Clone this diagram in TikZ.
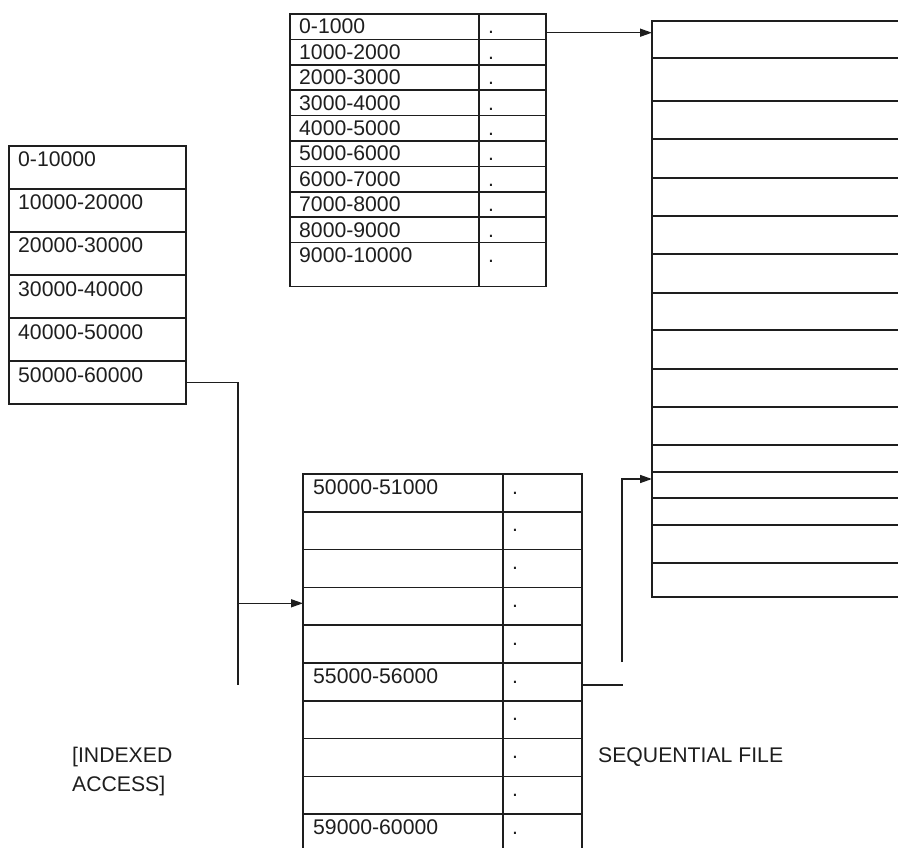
\documentclass[tikz,border=0pt]{standalone}
\usepackage{fontspec}
\setmainfont{Liberation Sans}
\usetikzlibrary{arrows.meta, positioning}
\definecolor{ink}{HTML}{1E1E1E}
\tikzset{
  cell/.style={rectangle,draw=ink,line width=1.5pt,anchor=north west,inner sep=0pt,outer sep=0pt},
  entry/.style={anchor=base west,inner sep=0pt,text=ink},
  line/.style={draw=ink,line width=1.5pt},
  arrow/.style={line,-{Triangle[length=12pt,width=8pt]}}
}

\begin{document}
\begin{tikzpicture}[x=1pt,y=-1pt,font=\fontsize{21.2}{25}\selectfont]
\useasboundingbox (0,0) rectangle (898,848);
% index table
\foreach \t [count=\i] in {0-10000,10000-20000,20000-30000,30000-40000,40000-50000,50000-60000} {
  \node[cell,minimum width=177pt,minimum height=43pt] (L\i) at (9,{146+43*(\i-1)}) {};
  \node[entry] (L\i t) at ([shift={(9pt,-21pt)}]L\i.north west) {\t};
}
% first level block index
\foreach \t [count=\i] in {0-1000,1000-2000,2000-3000,3000-4000,4000-5000,5000-6000,6000-7000,7000-8000,8000-9000,9000-10000} {
  \pgfmathsetmacro\th{\i==10 ? 44 : 25.4}
  \node[cell,minimum width=189pt,minimum height=\th pt] (T\i) at (290,{14+25.4*(\i-1)}) {};
  \node[cell,minimum width=67pt,minimum height=\th pt] (T\i b) at (479,{14+25.4*(\i-1)}) {};
  \node[entry] (T\i t) at ([shift={(9pt,-20pt)}]T\i.north west) {\t};
  \node[entry] (T\i d) at ([shift={(9pt,-20pt)}]T\i b.north west) {.};
}
% second level block index
\foreach \t [count=\i] in {50000-51000,{},{},{},{},55000-56000,{},{},{},59000-60000} {
  \node[cell,minimum width=200pt,minimum height=37.8pt] (B\i) at (303,{474+37.8*(\i-1)}) {};
  \node[cell,minimum width=79pt,minimum height=37.8pt] (B\i b) at (503,{474+37.8*(\i-1)}) {};
  \node[entry] (B\i t) at ([shift={(10pt,-20pt)}]B\i.north west) {\t};
  \node[entry] (B\i d) at ([shift={(9pt,-20pt)}]B\i b.north west) {.};
}
% sequential file
\foreach \top/\bot [count=\i] in {21/58,58/101,101/139,139/178,178/216,216/254,254/293,293/330,330/369,369/407,407/445,445/472,472/498,498/525,525/563,563/597} {
  \node[cell,minimum width=260pt,minimum height={(\bot-\top)*1pt}] (R\i) at (652,\top) {};
}
% connectors
\coordinate (jl) at (238,685);
\coordinate (sk) at (623,685);
\coordinate (su) at (622,662);
\draw[arrow] ([yshift=-6pt]T1b.east) -- ([yshift=-6pt]T1b.east -| R1.west);
\draw[line] (L6.east) -| (jl);
\draw[arrow] ([yshift=3pt]B4.west -| jl) -- ([yshift=3pt]B4.west);
\draw[line] (B6b.east |- sk) -- (sk);
\draw[arrow] (su) |- ([yshift=6pt]R13.west);
% captions
\node[entry] (ix1) at (72,762) {[INDEXED};
\node[entry] (ix2) at (72,791) {ACCESS]};
\node[entry] (seq) at (598,762) {SEQUENTIAL FILE};
\end{tikzpicture}
\end{document}
